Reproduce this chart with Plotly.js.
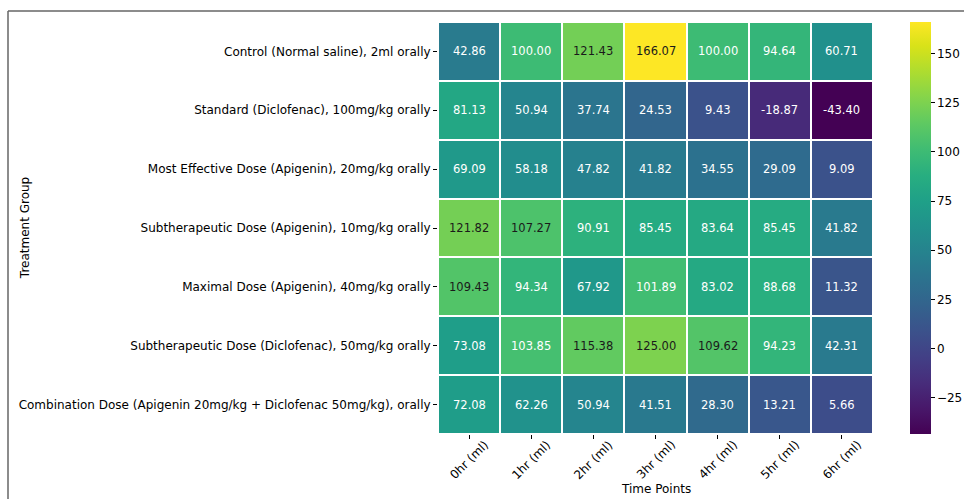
<!DOCTYPE html>
<html><head><meta charset="utf-8">
<script src="https://cdn.plot.ly/plotly-3.0.1.min.js"></script>
<style>html,body{margin:0;padding:0;background:#fff;}#chart{width:964px;height:499px;}</style>
</head><body><div id="chart"></div>
<script>
const groups = [
  "Control (Normal saline), 2ml orally",
  "Standard (Diclofenac), 100mg/kg orally",
  "Most Effective Dose (Apigenin), 20mg/kg orally",
  "Subtherapeutic Dose (Apigenin), 10mg/kg orally",
  "Maximal Dose (Apigenin), 40mg/kg orally",
  "Subtherapeutic Dose (Diclofenac), 50mg/kg orally",
  "Combination Dose (Apigenin 20mg/kg + Diclofenac 50mg/kg), orally"
];
const timePoints = ["0hr (ml)","1hr (ml)","2hr (ml)","3hr (ml)","4hr (ml)","5hr (ml)","6hr (ml)"];
const control = [42.86, 100.00, 121.43, 166.07, 100.00, 94.64, 60.71];
const standard = [81.13, 50.94, 37.74, 24.53, 9.43, -18.87, -43.40];
const mostEffective = [69.09, 58.18, 47.82, 41.82, 34.55, 29.09, 9.09];
const subApigenin = [121.82, 107.27, 90.91, 85.45, 83.64, 85.45, 41.82];
const maximal = [109.43, 94.34, 67.92, 101.89, 83.02, 88.68, 11.32];
const subDiclofenac = [73.08, 103.85, 115.38, 125.00, 109.62, 94.23, 42.31];
const combination = [72.08, 62.26, 50.94, 41.51, 28.30, 13.21, 5.66];
const colorbarTicks = [-25, 0, 25, 50, 75, 100, 125, 150];

const z = [control, standard, mostEffective, subApigenin, maximal, subDiclofenac, combination];
const font = "DejaVu Sans, sans-serif";

const annotations = [];
z.forEach((row, i) => row.forEach((v, j) => {
  annotations.push({x: timePoints[j], y: groups[i], xref: 'x', yref: 'y', text: v.toFixed(2),
    showarrow: false, font: {family: font, size: 11.5, color: v >= 105 ? '#1a1a1a' : '#ffffff'}});
}));
timePoints.forEach(t => {
  annotations.push({x: t, xref: 'x', yref: 'paper', y: -0.063, xanchor: 'center', yanchor: 'middle',
    text: t, textangle: -45, showarrow: false, font: {family: font, size: 12, color: '#000'}});
});
annotations.push({xref: 'paper', yref: 'paper', x: -0.949, xanchor: 'center', y: 0.5, yanchor: 'middle',
  text: 'Treatment Group', textangle: -90, showarrow: false, font: {family: font, size: 12, color: '#000'}});
annotations.push({xref: 'paper', yref: 'paper', x: 0.5, xanchor: 'center', y: -0.1335, yanchor: 'middle',
  text: 'Time Points', showarrow: false, font: {family: font, size: 12, color: '#000'}});

const trace = {
  type: 'heatmap', x: timePoints, y: groups, z: z,
  colorscale: 'Viridis', zmin: -43.40, zmax: 166.07,
  xgap: 2, ygap: 2, hoverinfo: 'skip',
  colorbar: {x: 1.085, xanchor: 'left', xpad: 0, y: 0.5, ypad: 0, len: 1.0, thickness: 21, outlinewidth: 0,
    tickvals: colorbarTicks, ticks: 'outside', ticklen: 4, tickcolor: '#000',
    tickfont: {family: font, size: 12, color: '#000'}}
};

const layout = {
  width: 964, height: 499,
  margin: {l: 438, r: 91, t: 22, b: 65, autoexpand: false},
  paper_bgcolor: '#fff', plot_bgcolor: '#fff',
  xaxis: {type: 'category', showticklabels: false, ticks: 'outside', ticklen: 4, tickcolor: '#000',
    showgrid: false, zeroline: false, showline: false},
  yaxis: {type: 'category', autorange: 'reversed', ticks: 'outside', ticklen: 4, tickcolor: '#000',
    showgrid: false, zeroline: false, showline: false, tickfont: {family: font, size: 12, color: '#000'}},
  annotations: annotations,
  shapes: [
    {type: 'line', xref: 'paper', yref: 'paper', x0: -0.9885, x1: 1.25, y0: 1.0267, y1: 1.0267, line: {color: '#666', width: 1.5}},
    {type: 'line', xref: 'paper', yref: 'paper', x0: -0.9885, x1: -0.9885, y0: 1.0267, y1: -0.16, line: {color: '#666', width: 1.5}}
  ]
};

Plotly.newPlot('chart', [trace], layout, {displayModeBar: false, staticPlot: true});
</script></body></html>
